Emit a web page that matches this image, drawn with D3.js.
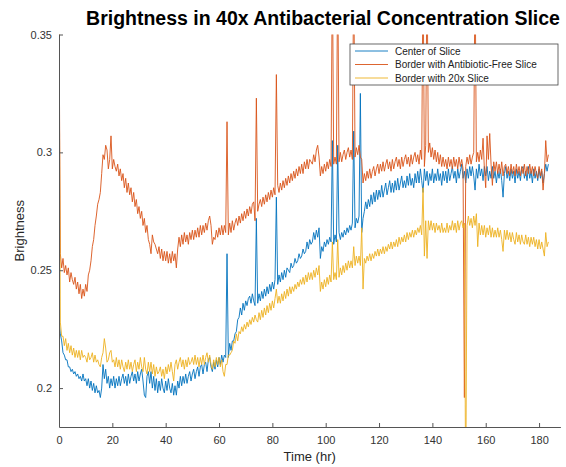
<!DOCTYPE html>
<html>
<head>
<meta charset="utf-8">
<script src="https://cdn.jsdelivr.net/npm/d3@7"></script>
<style>
  body { margin: 0; background: #fff; }
  svg { display: block; }
  text { font-family: "Liberation Sans", Arial, Helvetica, sans-serif; }
</style>
</head>
<body>
<svg id="chart" width="566" height="467"></svg>
<script>
// Sampling interval of the brightness readings, in hours
const sampleStepHr = 0.5;

// Mean brightness at the centre of the 40x slice
const centerOfSlice = [
  0.229,0.223,0.220,0.215,0.214,0.212,0.212,0.209,0.209,0.207,
  0.208,0.206,0.207,0.205,0.206,0.204,0.205,0.203,0.206,0.203,
  0.204,0.201,0.204,0.200,0.203,0.199,0.202,0.198,0.201,0.198,
  0.199,0.196,0.200,0.210,0.204,0.208,0.202,0.205,0.200,0.204,
  0.201,0.205,0.200,0.204,0.201,0.205,0.201,0.204,0.206,0.202,
  0.205,0.201,0.206,0.202,0.205,0.207,0.203,0.206,0.202,0.207,
  0.203,0.206,0.208,0.203,0.197,0.196,0.205,0.207,0.202,0.207,
  0.200,0.205,0.199,0.204,0.198,0.203,0.199,0.204,0.200,0.198,
  0.203,0.199,0.204,0.200,0.198,0.202,0.197,0.201,0.197,0.203,
  0.200,0.205,0.201,0.205,0.202,0.206,0.202,0.205,0.207,0.203,
  0.206,0.208,0.204,0.207,0.209,0.205,0.209,0.210,0.206,0.210,
  0.211,0.207,0.212,0.213,0.209,0.207,0.211,0.208,0.212,0.209,
  0.213,0.210,0.214,0.211,0.214,0.213,0.257,0.213,0.219,0.216,
  0.220,0.220,0.223,0.224,0.229,0.230,0.234,0.231,0.236,0.233,
  0.237,0.235,0.238,0.239,0.236,0.240,0.237,0.235,0.272,0.236,
  0.240,0.237,0.241,0.238,0.242,0.239,0.243,0.240,0.244,0.241,
  0.245,0.242,0.246,0.281,0.244,0.248,0.245,0.249,0.246,0.250,
  0.247,0.251,0.250,0.249,0.253,0.251,0.252,0.255,0.253,0.254,
  0.257,0.255,0.256,0.259,0.257,0.258,0.262,0.259,0.263,0.261,
  0.262,0.266,0.263,0.267,0.264,0.268,0.255,0.260,0.258,0.262,
  0.260,0.263,0.261,0.264,0.262,0.305,0.261,0.265,0.262,0.303,
  0.266,0.263,0.266,0.264,0.267,0.265,0.268,0.266,0.269,0.267,
  0.270,0.309,0.268,0.272,0.270,0.273,0.325,0.266,0.272,0.275,
  0.279,0.276,0.280,0.277,0.282,0.278,0.283,0.279,0.284,0.280,
  0.284,0.281,0.286,0.281,0.284,0.287,0.282,0.285,0.288,0.283,
  0.287,0.283,0.288,0.284,0.289,0.284,0.287,0.290,0.285,0.288,
  0.285,0.290,0.286,0.291,0.286,0.289,0.285,0.291,0.287,0.292,
  0.287,0.293,0.288,0.283,0.293,0.288,0.292,0.286,0.291,0.288,
  0.293,0.287,0.291,0.288,0.293,0.288,0.291,0.286,0.292,0.288,
  0.292,0.287,0.293,0.288,0.291,0.294,0.289,0.292,0.287,0.293,
  0.289,0.292,0.295,0.289,0.292,0.287,0.293,0.289,0.294,0.290,
  0.294,0.290,0.284,0.293,0.289,0.295,0.290,0.293,0.288,0.294,
  0.290,0.294,0.288,0.292,0.289,0.294,0.289,0.292,0.287,0.292,
  0.289,0.293,0.288,0.281,0.291,0.294,0.289,0.292,0.288,0.293,
  0.289,0.292,0.287,0.293,0.289,0.292,0.288,0.293,0.294,0.289,
  0.292,0.288,0.294,0.289,0.292,0.287,0.293,0.289,0.292,0.288,
  0.293,0.289,0.292,0.287,0.291,0.295,0.292,0.295
];

// Brightness along the border with the antibiotic-free slice
const borderAntibioticFree = [
  0.360,0.257,0.251,0.255,0.249,0.252,0.248,0.251,0.245,0.249,
  0.246,0.244,0.247,0.242,0.245,0.240,0.244,0.238,0.242,0.239,
  0.244,0.241,0.248,0.250,0.254,0.260,0.263,0.269,0.273,0.278,
  0.280,0.283,0.291,0.299,0.297,0.303,0.301,0.293,0.297,0.307,
  0.293,0.297,0.294,0.292,0.295,0.290,0.293,0.288,0.291,0.285,
  0.289,0.283,0.287,0.282,0.285,0.279,0.283,0.277,0.280,0.274,
  0.277,0.272,0.275,0.269,0.272,0.266,0.269,0.263,0.261,0.257,
  0.265,0.262,0.261,0.259,0.257,0.260,0.255,0.259,0.254,0.258,
  0.254,0.258,0.253,0.257,0.253,0.258,0.254,0.257,0.251,0.259,
  0.264,0.260,0.265,0.261,0.266,0.262,0.265,0.261,0.266,0.263,
  0.267,0.263,0.267,0.264,0.268,0.264,0.269,0.265,0.269,0.266,
  0.270,0.267,0.271,0.273,0.269,0.261,0.264,0.263,0.267,0.264,
  0.268,0.265,0.269,0.265,0.269,0.266,0.313,0.265,0.270,0.266,
  0.271,0.267,0.270,0.272,0.269,0.273,0.270,0.274,0.271,0.275,
  0.272,0.276,0.273,0.277,0.274,0.278,0.279,0.271,0.323,0.275,
  0.278,0.280,0.277,0.281,0.278,0.282,0.279,0.283,0.280,0.284,
  0.281,0.285,0.282,0.333,0.286,0.283,0.287,0.284,0.288,0.285,
  0.289,0.286,0.290,0.287,0.291,0.288,0.292,0.289,0.293,0.290,
  0.294,0.291,0.295,0.291,0.296,0.293,0.297,0.293,0.297,0.296,
  0.295,0.299,0.296,0.301,0.303,0.298,0.290,0.294,0.291,0.295,
  0.292,0.296,0.293,0.297,0.294,0.380,0.295,0.298,0.295,0.380,
  0.296,0.300,0.296,0.299,0.301,0.297,0.300,0.302,0.298,0.301,
  0.297,0.380,0.298,0.302,0.299,0.303,0.298,0.297,0.287,0.291,
  0.288,0.292,0.289,0.293,0.289,0.292,0.294,0.290,0.293,0.295,
  0.291,0.295,0.292,0.296,0.292,0.295,0.297,0.293,0.296,0.292,
  0.297,0.293,0.296,0.298,0.294,0.297,0.293,0.298,0.294,0.297,
  0.299,0.295,0.298,0.294,0.299,0.295,0.298,0.300,0.296,0.299,
  0.295,0.301,0.297,0.380,0.294,0.303,0.380,0.300,0.304,0.298,
  0.302,0.297,0.301,0.296,0.300,0.295,0.299,0.294,0.298,0.294,
  0.297,0.293,0.298,0.294,0.297,0.293,0.298,0.294,0.297,0.293,
  0.298,0.294,0.297,0.293,0.196,0.294,0.298,0.295,0.299,0.295,
  0.298,0.300,0.380,0.296,0.300,0.296,0.301,0.297,0.306,0.293,
  0.285,0.307,0.297,0.308,0.295,0.286,0.296,0.292,0.296,0.291,
  0.295,0.291,0.296,0.290,0.294,0.295,0.291,0.294,0.290,0.295,
  0.291,0.294,0.290,0.295,0.291,0.294,0.290,0.294,0.291,0.295,
  0.290,0.294,0.291,0.295,0.291,0.294,0.290,0.294,0.291,0.289,
  0.294,0.290,0.293,0.284,0.291,0.305,0.296,0.299
];

// Brightness along the border with the 20x slice
const border20x = [
  0.360,0.228,0.222,0.222,0.218,0.221,0.216,0.219,0.215,0.218,
  0.214,0.217,0.213,0.216,0.213,0.216,0.212,0.216,0.213,0.214,
  0.213,0.211,0.215,0.212,0.213,0.215,0.211,0.214,0.211,0.212,
  0.210,0.209,0.213,0.215,0.221,0.217,0.211,0.212,0.215,0.216,
  0.211,0.212,0.209,0.213,0.209,0.212,0.208,0.212,0.209,0.207,
  0.211,0.208,0.212,0.208,0.211,0.207,0.210,0.212,0.207,0.211,
  0.208,0.213,0.209,0.207,0.213,0.208,0.206,0.211,0.207,0.211,
  0.206,0.210,0.205,0.209,0.206,0.207,0.209,0.205,0.208,0.204,
  0.209,0.206,0.210,0.207,0.211,0.207,0.203,0.210,0.212,0.208,
  0.211,0.213,0.209,0.212,0.208,0.212,0.209,0.213,0.210,0.211,
  0.213,0.210,0.214,0.210,0.213,0.209,0.213,0.210,0.214,0.210,
  0.213,0.215,0.211,0.214,0.210,0.208,0.212,0.209,0.213,0.210,
  0.213,0.209,0.212,0.207,0.205,0.210,0.210,0.214,0.214,0.215,
  0.216,0.220,0.219,0.223,0.220,0.224,0.223,0.226,0.224,0.227,
  0.225,0.228,0.226,0.229,0.227,0.230,0.228,0.231,0.229,0.228,
  0.232,0.229,0.233,0.230,0.234,0.231,0.235,0.232,0.236,0.233,
  0.237,0.234,0.238,0.242,0.236,0.239,0.236,0.240,0.237,0.241,
  0.238,0.242,0.239,0.243,0.240,0.243,0.241,0.244,0.242,0.245,
  0.243,0.246,0.244,0.247,0.244,0.248,0.245,0.249,0.246,0.249,
  0.246,0.250,0.247,0.251,0.248,0.252,0.241,0.245,0.242,0.246,
  0.243,0.247,0.244,0.248,0.245,0.262,0.246,0.249,0.246,0.263,
  0.247,0.251,0.248,0.252,0.249,0.253,0.250,0.254,0.251,0.254,
  0.251,0.260,0.252,0.256,0.253,0.256,0.252,0.268,0.242,0.255,
  0.253,0.256,0.254,0.257,0.254,0.257,0.255,0.258,0.256,0.259,
  0.256,0.259,0.257,0.260,0.257,0.260,0.258,0.261,0.259,0.262,
  0.259,0.262,0.260,0.263,0.260,0.264,0.261,0.264,0.262,0.265,
  0.262,0.266,0.263,0.266,0.264,0.267,0.264,0.267,0.265,0.268,
  0.266,0.269,0.265,0.285,0.256,0.271,0.255,0.271,0.267,0.271,
  0.267,0.270,0.266,0.270,0.267,0.269,0.266,0.270,0.266,0.268,
  0.266,0.270,0.266,0.269,0.267,0.271,0.267,0.270,0.266,0.271,
  0.267,0.270,0.271,0.268,0.270,0.150,0.269,0.273,0.269,0.272,
  0.268,0.273,0.269,0.274,0.260,0.270,0.265,0.269,0.265,0.269,
  0.264,0.268,0.265,0.269,0.264,0.268,0.264,0.267,0.264,0.268,
  0.264,0.267,0.263,0.258,0.267,0.263,0.267,0.263,0.266,0.262,
  0.266,0.263,0.261,0.266,0.262,0.265,0.261,0.265,0.262,0.261,
  0.265,0.261,0.264,0.260,0.264,0.261,0.264,0.260,0.263,0.259,
  0.263,0.259,0.262,0.259,0.256,0.266,0.260,0.262
];

const seriesNames = ["Center of Slice", "Border with Antibiotic-Free Slice", "Border with 20x Slice"];
const seriesColors = ["#0072BD", "#D95319", "#EDB120"];
const xTickValues = [0, 20, 40, 60, 80, 100, 120, 140, 160, 180];
const yTickValues = [0.2, 0.25, 0.3, 0.35];
const xDomain = [0, 188];
const yDomain = [0.1835, 0.35];

const svg = d3.select("#chart");
const plot = { left: 59, right: 560.4, top: 34.5, bottom: 427 };

const x = d3.scaleLinear().domain(xDomain).range([plot.left, plot.right]);
const y = d3.scaleLinear().domain(yDomain).range([plot.bottom, plot.top]);

svg.append("defs").append("clipPath").attr("id", "plot-clip")
  .append("rect")
  .attr("x", plot.left).attr("y", plot.top)
  .attr("width", plot.right - plot.left).attr("height", plot.bottom - plot.top);

const series = [centerOfSlice, borderAntibioticFree, border20x].map((vals, k) => ({
  name: seriesNames[k],
  color: seriesColors[k],
  points: vals.map((v, i) => ({ t: i * sampleStepHr, v }))
}));

const line = d3.line().x(d => x(d.t)).y(d => y(d.v));

svg.append("g").attr("clip-path", "url(#plot-clip)")
  .selectAll("path").data(series).join("path")
  .attr("d", d => line(d.points))
  .attr("fill", "none")
  .attr("stroke", d => d.color)
  .attr("stroke-width", 0.9)
  .attr("stroke-linejoin", "round");

// Axes: MATLAB-style inward ticks, no box
const axisColor = "#555";
const xAxis = svg.append("g")
  .attr("transform", `translate(0,${plot.bottom})`)
  .call(d3.axisBottom(x).tickValues(xTickValues).tickSizeInner(-4).tickSizeOuter(0).tickPadding(9));
const yAxis = svg.append("g")
  .attr("transform", `translate(${plot.left},0)`)
  .call(d3.axisLeft(y).tickValues(yTickValues).tickFormat(d => String(d)).tickSizeInner(-4).tickSizeOuter(0).tickPadding(7));

[xAxis, yAxis].forEach(g => {
  g.select(".domain").attr("stroke", axisColor).attr("stroke-width", 1);
  g.selectAll(".tick line").attr("stroke", axisColor);
  g.selectAll(".tick text")
    .attr("fill", "#333")
    .style("font-size", "11px")
    .style("font-family", '"Liberation Sans", Arial, Helvetica, sans-serif');
});

// Title and axis labels
svg.append("text")
  .attr("x", 323).attr("y", 25)
  .attr("text-anchor", "middle")
  .style("font-size", "19.5px").style("font-weight", "bold")
  .attr("fill", "#000")
  .text("Brightness in 40x Antibacterial Concentration Slice");

svg.append("text")
  .attr("x", (plot.left + plot.right) / 2).attr("y", 461)
  .attr("text-anchor", "middle")
  .style("font-size", "13px").attr("fill", "#262626")
  .text("Time (hr)");

svg.append("text")
  .attr("transform", `translate(24,${(plot.top + plot.bottom) / 2}) rotate(-90)`)
  .attr("text-anchor", "middle")
  .style("font-size", "13px").attr("fill", "#262626")
  .text("Brightness");

// Legend
const legend = svg.append("g").attr("transform", "translate(350,44)");
legend.append("rect")
  .attr("width", 208).attr("height", 41)
  .attr("fill", "#fff").attr("stroke", "#444").attr("stroke-width", 0.8);
const entry = legend.selectAll("g.entry").data(series).join("g")
  .attr("class", "entry")
  .attr("transform", (d, i) => `translate(0,${7 + i * 13.5})`);
entry.append("line")
  .attr("x1", 5).attr("x2", 38)
  .attr("stroke", d => d.color).attr("stroke-width", 0.9);
entry.append("text")
  .attr("x", 45).attr("dy", "0.35em")
  .style("font-size", "10px").attr("fill", "#222")
  .text(d => d.name);
</script>
</body>
</html>
